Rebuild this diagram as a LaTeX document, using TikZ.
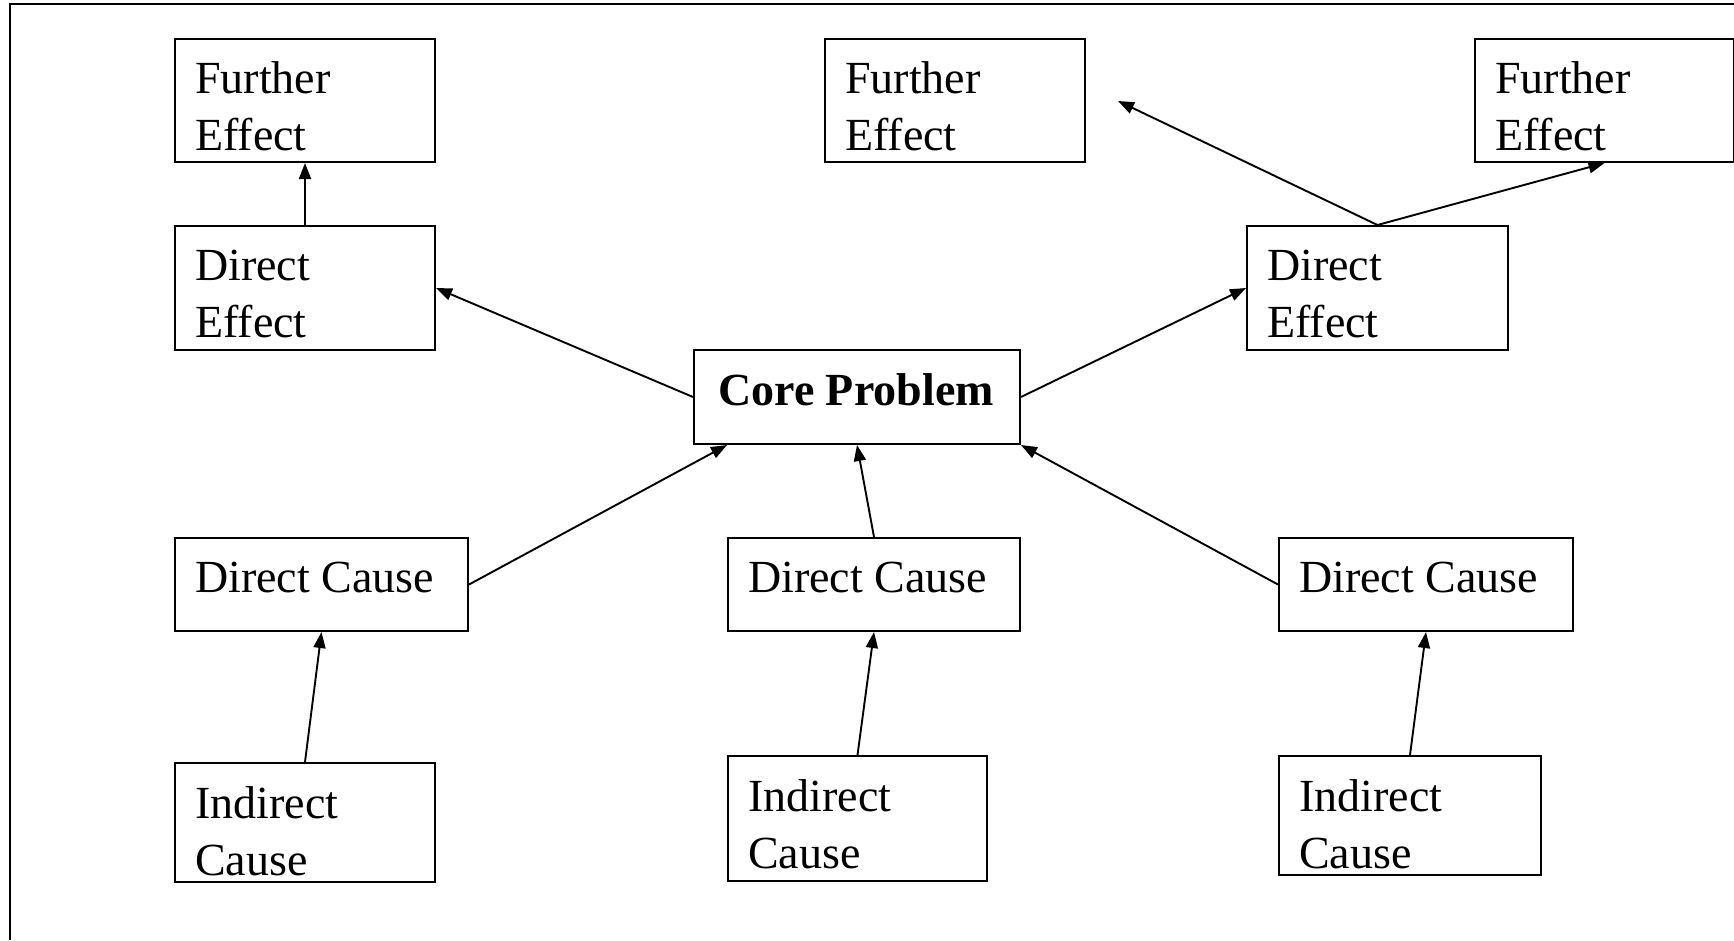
\documentclass[tikz,border=0pt]{standalone}
\usepackage{fontspec}
\setmainfont{Liberation Serif}
\usetikzlibrary{arrows.meta}
\tikzset{
  box/.style={draw, line width=2pt, anchor=north west, inner sep=0pt, minimum width=#1},
  lbl/.style={anchor=base west, inner sep=0pt, font=\fontsize{46}{57}\selectfont},
  arr/.style={line width=1.9pt, -{Triangle[length=16pt,width=12pt]}},
}
\newcommand{\twoline}[2]{\begin{tabular}[t]{@{}l@{}}#1\\#2\end{tabular}}
\begin{document}
\begin{tikzpicture}[x=1pt,y=-1pt]
\useasboundingbox (0,0) rectangle (1734,940);
\draw[line width=2.5pt] (10,940) -- (10,4) -- (1734,4);
% effects
\node[box=260pt, minimum height=123pt] (fe1) at (174,38) {};
\node[box=260pt, minimum height=123pt] (fe2) at (824,38) {};
\node[box=259pt, minimum height=123pt] (fe3) at (1474,38) {};
\node[box=260pt, minimum height=124pt] (de1) at (174,225) {};
\node[box=261pt, minimum height=124pt] (de2) at (1246,225) {};
% core
\node[box=326pt, minimum height=94pt] (core) at (693,349) {};
% causes
\node[box=293pt, minimum height=93pt] (dc1) at (174,537) {};
\node[box=292pt, minimum height=93pt] (dc2) at (727,537) {};
\node[box=294pt, minimum height=93pt] (dc3) at (1278,537) {};
\node[box=260pt, minimum height=119pt] (ic1) at (174,762) {};
\node[box=259pt, minimum height=125pt] (ic2) at (727,755) {};
\node[box=262pt, minimum height=119pt] (ic3) at (1278,755) {};
% labels
\node[lbl] (fe1t) at (195,93) {\twoline{Further}{Effect}};
\node[lbl] (fe2t) at (845,93) {\twoline{Further}{Effect}};
\node[lbl] (fe3t) at (1495,93) {\twoline{Further}{Effect}};
\node[lbl] (de1t) at (195,280) {\twoline{Direct}{Effect}};
\node[lbl] (de2t) at (1267,280) {\twoline{Direct}{Effect}};
\node[lbl, anchor=base, font=\fontsize{46}{57}\selectfont\bfseries] (coret) at (856,405) {Core Problem};
\node[lbl] (dc1t) at (195,592) {Direct Cause};
\node[lbl] (dc2t) at (748,592) {Direct Cause};
\node[lbl] (dc3t) at (1299,592) {Direct Cause};
\node[lbl] (ic1t) at (195,818) {\twoline{Indirect}{Cause}};
\node[lbl] (ic2t) at (748,811) {\twoline{Indirect}{Cause}};
\node[lbl] (ic3t) at (1299,811) {\twoline{Indirect}{Cause}};
% connectors
\coordinate (free) at (1118,101);
\draw[arr] (de1.north) -- (fe1.south);
\draw[arr] (core.west) -- (de1.east);
\draw[arr] (core.east) -- (de2.west);
\draw[arr] (de2.north) -- (free);
\draw[arr] (de2.north) -- (fe3.south);
\draw[arr] (dc1.east) -- ([xshift=34pt]core.south west);
\draw[arr] (dc2.north) -- (core.south);
\draw[arr] (dc3.west) -- (core.south east);
\draw[arr] (ic1.north) -- (dc1.south);
\draw[arr] (ic2.north) -- (dc2.south);
\draw[arr] (ic3.north) -- (dc3.south);
\end{tikzpicture}
\end{document}
